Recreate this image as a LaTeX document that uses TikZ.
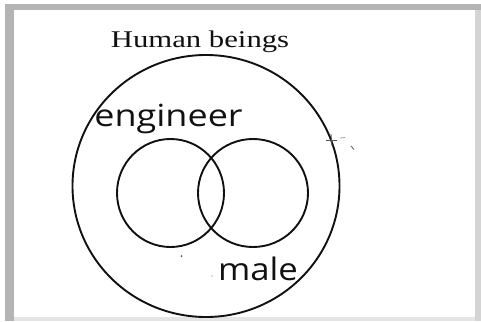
\documentclass[tikz,border=0pt]{standalone}
\usepackage{fontspec}
\setmainfont{Liberation Serif}
\newfontfamily\labelfont{Open Sans}
\definecolor{framegray}{HTML}{B4B4B4}
\definecolor{framelight}{HTML}{D4D4D4}
\definecolor{ink}{HTML}{111111}
\begin{document}
\begin{tikzpicture}[x=1pt,y=-1pt,
  setline/.style={draw=ink,line width=1.9pt},
  serifnote/.style={inner sep=0pt,anchor=base,text=ink,font=\fontsize{24}{24}\selectfont},
  sanslabel/.style={inner sep=0pt,anchor=base,text=ink},
  speck/.style={draw=ink!70,line width=0.8pt}]
\useasboundingbox (0,0) rectangle (481,321);
\fill[white] (0,0) rectangle (481,321);
% frame
\fill[framegray] (5,4) rectangle (481,321);
\fill[framelight] (475,10) rectangle (481,321);
\fill[framelight!60] (14,315) rectangle (475,321);
\fill[white] (14,10) rectangle (475,317);
% sets
\draw[setline] (206,186) ellipse [x radius=133.5, y radius=131];
\draw[setline] (170.5,193) ellipse [x radius=53.5, y radius=54];
\draw[setline] (253,193) ellipse [x radius=55, y radius=54];
% labels
\node[serifnote] (hb) at (200,48) {\scalebox{1.28}[1]{Human beings}};
\node[sanslabel] (eng) at (168.5,126) {\labelfont\fontsize{30.5}{30.5}\selectfont\scalebox{1.18}[1]{engineer}};
\node[sanslabel] (male) at (258,280) {\labelfont\fontsize{31}{31}\selectfont\scalebox{1.12}[1]{male}};
% scan specks
\draw[speck] (326,140) -- (337,140);
\draw[speck] (331,134) -- (332,146);
\draw[speck,draw=ink!40] (340,138) -- (345,137.5);
\draw[speck] (351,146) -- (354,149.5);
\fill[ink!70] (181.5,256) circle (1pt);
\fill[ink!30] (212,276) circle (0.8pt);
\end{tikzpicture}
\end{document}
